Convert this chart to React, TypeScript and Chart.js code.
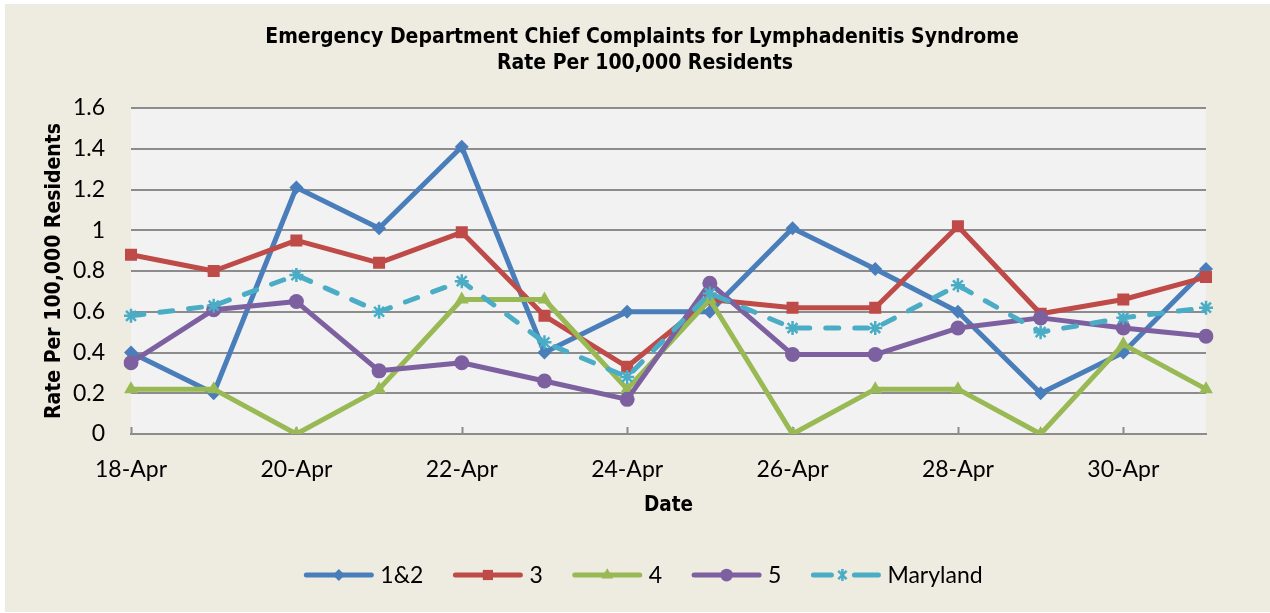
import React, { useEffect, useRef } from "react";
import { Chart, registerables } from "chart.js";

Chart.register(...registerables);

const categories = ["18-Apr", "19-Apr", "20-Apr", "21-Apr", "22-Apr", "23-Apr", "24-Apr", "25-Apr", "26-Apr", "27-Apr", "28-Apr", "29-Apr", "30-Apr", "1-May"];
const region12 = [0.40, 0.20, 1.21, 1.01, 1.41, 0.40, 0.60, 0.60, 1.01, 0.81, 0.60, 0.20, 0.40, 0.81];
const region3 = [0.88, 0.80, 0.95, 0.84, 0.99, 0.58, 0.33, 0.66, 0.62, 0.62, 1.02, 0.59, 0.66, 0.77];
const region4 = [0.22, 0.22, 0, 0.22, 0.66, 0.66, 0.22, 0.66, 0, 0.22, 0.22, 0, 0.44, 0.22];
const region5 = [0.35, 0.61, 0.65, 0.31, 0.35, 0.26, 0.17, 0.74, 0.39, 0.39, 0.52, 0.57, 0.52, 0.48];
const maryland = [0.58, 0.63, 0.78, 0.60, 0.75, 0.45, 0.28, 0.69, 0.52, 0.52, 0.73, 0.50, 0.57, 0.62];
const seriesNames = ["1&2", "3", "4", "5", "Maryland"];
const yTicks = [0, 0.2, 0.4, 0.6, 0.8, 1, 1.2, 1.4, 1.6];

const titleLines = ["Emergency Department Chief Complaints for Lymphadenitis Syndrome", "Rate Per 100,000 Residents"];
const yTitle = "Rate Per 100,000 Residents";
const xTitle = "Date";

const COLORS = ["#4A7EBB", "#BE4B48", "#98B954", "#7D60A0", "#4BACC6"];
const STYLES = ["rectRot", "rect", "triangle", "circle", "star"];
const RADII = [7, 8.5, 8, 7.5, 7];
const BG = "#EEEBE0";
const PLOT_BG = "#F2F2F2";
const GRID = "#8C8C8C";
const TICK_FONT = "Lato";
const TITLE_FONT = "'DejaVu Sans Condensed', 'DejaVu Sans'";

function drawMarker(ctx: CanvasRenderingContext2D, style: string, x: number, y: number, r: number, color: string) {
  ctx.save();
  ctx.fillStyle = color;
  ctx.strokeStyle = color;
  ctx.setLineDash([]);
  ctx.beginPath();
  if (style === "rectRot") {
    ctx.moveTo(x, y - r);
    ctx.lineTo(x + r, y);
    ctx.lineTo(x, y + r);
    ctx.lineTo(x - r, y);
    ctx.closePath();
    ctx.fill();
  } else if (style === "rect") {
    const s = r * Math.SQRT1_2;
    ctx.rect(x - s, y - s, 2 * s, 2 * s);
    ctx.fill();
  } else if (style === "triangle") {
    ctx.moveTo(x, y - r);
    ctx.lineTo(x + r * 0.866, y + r * 0.5);
    ctx.lineTo(x - r * 0.866, y + r * 0.5);
    ctx.closePath();
    ctx.fill();
  } else if (style === "circle") {
    ctx.arc(x, y, r, 0, Math.PI * 2);
    ctx.fill();
  } else {
    ctx.lineWidth = 2.5;
    ctx.moveTo(x, y - r);
    ctx.lineTo(x, y + r);
    const d = r * Math.SQRT1_2;
    ctx.moveTo(x - d, y - d);
    ctx.lineTo(x + d, y + d);
    ctx.moveTo(x + d, y - d);
    ctx.lineTo(x - d, y + d);
    ctx.stroke();
  }
  ctx.restore();
}

const decorPlugin = {
  id: "decor",
  beforeDraw(chart: any) {
    const { ctx, chartArea: a } = chart;
    ctx.save();
    ctx.fillStyle = "#FFFFFF";
    ctx.fillRect(0, 0, chart.width, chart.height);
    ctx.fillStyle = BG;
    ctx.fillRect(5, 4, chart.width - 5, chart.height - 5);
    ctx.fillStyle = PLOT_BG;
    ctx.fillRect(a.left, a.top, a.right - a.left, a.bottom - a.top);
    ctx.restore();
  },
  beforeDatasetsDraw(chart: any) {
    const { ctx, chartArea: a, scales } = chart;
    ctx.save();
    ctx.strokeStyle = GRID;
    ctx.lineWidth = 2;
    categories.forEach((_, i) => {
      if (i % 2 !== 0) return;
      const x = Math.round(scales.x.getPixelForValue(i)) + 0.5;
      ctx.beginPath();
      ctx.moveTo(x, a.bottom);
      ctx.lineTo(x, a.bottom - 7);
      ctx.stroke();
    });
    ctx.restore();
  },
  afterDraw(chart: any) {
    const { ctx, chartArea: a } = chart;
    ctx.save();
    ctx.fillStyle = "#000000";
    ctx.textAlign = "center";
    ctx.textBaseline = "middle";
    ctx.font = `bold 21px ${TITLE_FONT}`;
    ctx.fillText(titleLines[0], 642, 38);
    ctx.fillText(titleLines[1], 645, 64);

    ctx.font = `bold 20.5px ${TITLE_FONT}`;
    ctx.fillText(xTitle, (a.left + a.right) / 2, 506);
    ctx.font = `bold 21px ${TITLE_FONT}`;
    ctx.save();
    ctx.translate(55, (a.top + a.bottom) / 2);
    ctx.rotate(-Math.PI / 2);
    ctx.fillText(yTitle, 0, 0);
    ctx.restore();

    // legend
    ctx.font = `23px ${TICK_FONT}`;
    const lineLen = 71;
    const gap1 = 6;
    const gap2 = 29;
    const widths = seriesNames.map((n) => ctx.measureText(n).width);
    const total = widths.reduce((s, w) => s + lineLen + gap1 + w, 0) + gap2 * (seriesNames.length - 1);
    let x = 643 - total / 2;
    const y = 575;
    seriesNames.forEach((name, i) => {
      ctx.save();
      ctx.strokeStyle = COLORS[i];
      ctx.lineWidth = 5;
      ctx.lineCap = "round";
      if (i === 4) {
        ctx.beginPath();
        ctx.moveTo(x + 3, y);
        ctx.lineTo(x + 21, y);
        ctx.moveTo(x + 44, y);
        ctx.lineTo(x + lineLen - 3, y);
        ctx.stroke();
      } else {
        ctx.beginPath();
        ctx.moveTo(x + 3, y);
        ctx.lineTo(x + lineLen - 3, y);
        ctx.stroke();
      }
      ctx.restore();
      drawMarker(ctx, STYLES[i], x + (i === 4 ? 32 : lineLen / 2), y, RADII[i] * 0.85, COLORS[i]);
      ctx.fillStyle = "#000000";
      ctx.textAlign = "left";
      ctx.fillText(name, x + lineLen + gap1, y + 1);
      x += lineLen + gap1 + widths[i] + gap2;
    });
    ctx.restore();
  },
};

export default function App() {
  const ref = useRef<HTMLCanvasElement>(null);
  useEffect(() => {
    if (!ref.current) return;
    const all = [region12, region3, region4, region5, maryland];
    const chart = new Chart(ref.current, {
      type: "line",
      data: {
        labels: categories,
        datasets: all.map((d, i) => ({
          label: seriesNames[i],
          data: d,
          borderColor: COLORS[i],
          backgroundColor: COLORS[i],
          borderWidth: 5,
          borderDash: i === 4 ? [13, 16] : [],
          borderCapStyle: "round",
          borderJoinStyle: "round",
          pointStyle: STYLES[i],
          pointRadius: RADII[i],
          pointBorderWidth: i === 4 ? 2.5 : 0,
          pointBorderColor: COLORS[i],
          pointBackgroundColor: COLORS[i],
          tension: 0,
          fill: false,
          order: 4 - i,
        })),
      },
      options: {
        responsive: false,
        animation: false,
        events: [],
        layout: { padding: { left: 0, top: 108, right: 64, bottom: 119 } },
        plugins: {
          legend: { display: false },
          title: { display: false },
          tooltip: { enabled: false },
        },
        scales: {
          x: {
            type: "category",
            offset: false,
            grid: { display: false },
            border: { display: true, color: GRID, width: 2 },
            ticks: {
              autoSkip: false,
              maxRotation: 0,
              minRotation: 0,
              padding: 14,
              color: "#000000",
              font: { family: TICK_FONT, size: 23 },
              callback: (_v: any, i: number) => (i % 2 === 0 ? categories[i] : ""),
            },
            afterFit: (s: any) => {
              s.height = 60;
            },
          },
          y: {
            min: 0,
            max: 1.6,
            afterBuildTicks: (s: any) => {
              s.ticks = yTicks.map((v) => ({ value: v }));
            },
            grid: { color: GRID, lineWidth: 2, drawTicks: false },
            border: { display: false },
            ticks: {
              padding: 26,
              color: "#000000",
              font: { family: TICK_FONT, size: 23 },
              callback: (v: any) => String(Number(Number(v).toFixed(1))),
            },
            afterFit: (s: any) => {
              s.width = 131;
            },
          },
        },
      },
      plugins: [decorPlugin],
    });
    return () => chart.destroy();
  }, []);
  return (
    <div style={{ position: "absolute", left: 0, top: 0, width: 1270, height: 613 }}>
      <canvas ref={ref} width={1270} height={613} style={{ display: "block", width: 1270, height: 613 }} />
    </div>
  );
}
